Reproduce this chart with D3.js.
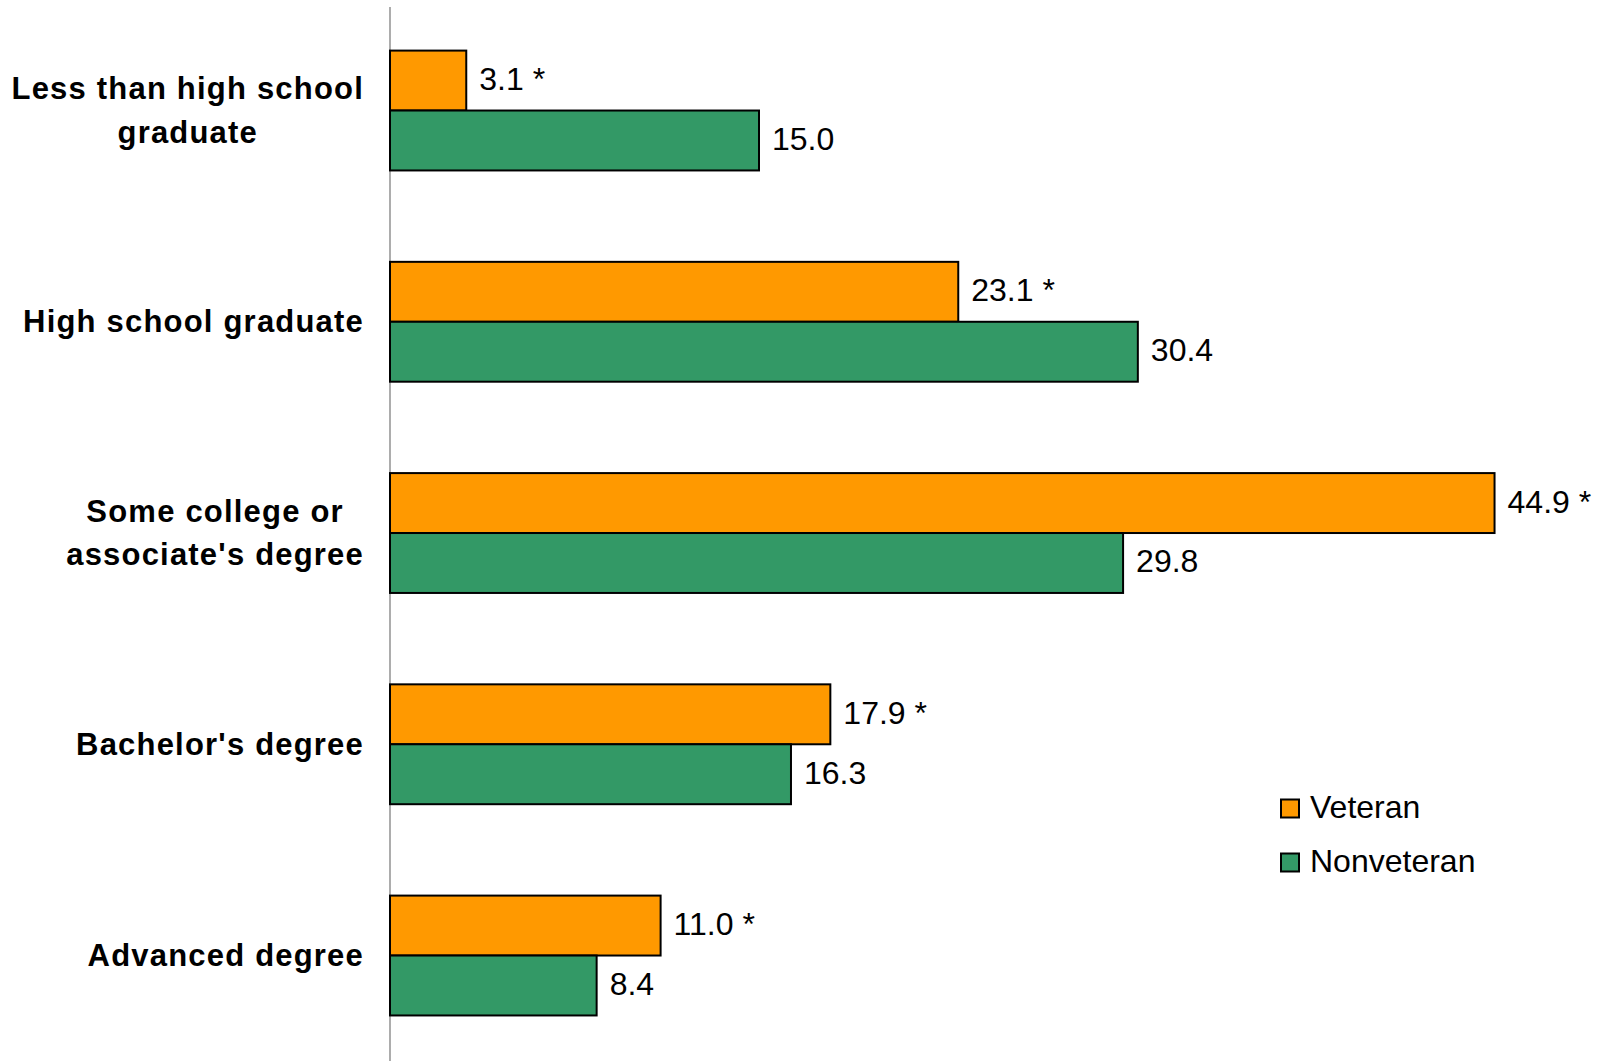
<!DOCTYPE html>
<html>
<head>
<meta charset="utf-8">
<script src="https://cdn.jsdelivr.net/npm/d3@7"></script>
<style>
  html, body { margin: 0; padding: 0; background: #ffffff; }
  svg { display: block; }
</style>
</head>
<body>
<script>
// ---- Data ----
const categories = [
  ["Less than high school", "graduate"],
  ["High school graduate"],
  ["Some college or", "associate's degree"],
  ["Bachelor's degree"],
  ["Advanced degree"]
];
const seriesNames = ["Veteran", "Nonveteran"];
const veteranValues = [3.1, 23.1, 44.9, 17.9, 11.0];
const nonveteranValues = [15.0, 30.4, 29.8, 16.3, 8.4];
const veteranSignificant = [true, true, true, true, true];
const seriesColors = ["#FF9900", "#339966"];

// ---- Layout ----
const W = 1604, H = 1061;
const svg = d3.select("body").append("svg").attr("width", W).attr("height", H);

const catKeys = categories.map(c => c.join(" "));
const x = d3.scaleLinear().domain([0, 50]).range([390, 390 + 50 * 24.6]);
const y = d3.scaleBand().domain(catKeys).range([4.9, 1061.15])
  .paddingInner(0.4326).paddingOuter(0.2163);
const ySub = d3.scaleBand().domain(seriesNames).range([0, y.bandwidth()]);

const rows = catKeys.map((k, i) => ({
  key: k, lines: categories[i],
  vals: [
    { s: "Veteran", v: veteranValues[i], star: veteranSignificant[i] },
    { s: "Nonveteran", v: nonveteranValues[i], star: false }
  ]
}));

// axis line
svg.append("line")
  .attr("x1", x(0)).attr("x2", x(0))
  .attr("y1", 7).attr("y2", H)
  .attr("stroke", "#808080").attr("stroke-width", 1.3);

const groups = svg.selectAll("g.grp").data(rows).join("g")
  .attr("class", "grp")
  .attr("transform", d => `translate(0,${y(d.key)})`);

groups.selectAll("rect").data(d => d.vals).join("rect")
  .attr("x", x(0))
  .attr("y", d => ySub(d.s))
  .attr("width", d => x(d.v) - x(0))
  .attr("height", ySub.bandwidth())
  .attr("fill", (d, i) => seriesColors[i])
  .attr("stroke", "#000").attr("stroke-width", 2);

groups.selectAll("text.val").data(d => d.vals).join("text")
  .attr("class", "val")
  .attr("x", d => x(d.v) + 13)
  .attr("y", d => ySub(d.s) + ySub.bandwidth() / 2 + 9.5)
  .attr("font-family", "Liberation Sans, Arial, sans-serif")
  .attr("font-size", 32)
  .attr("fill", "#000")
  .text(d => d.v.toFixed(1) + (d.star ? " *" : ""));

// category labels
const labelRight = 364;
const lineGap = 43.4;
rows.forEach(r => {
  const cy = y(r.key) + y.bandwidth() / 2;
  const g = svg.append("g");
  const n = r.lines.length;
  const texts = r.lines.map((ln, j) => g.append("text")
    .attr("y", cy + 10.5 + (j - (n - 1) / 2) * lineGap)
    .attr("font-family", "Liberation Sans, Arial, sans-serif")
    .attr("font-weight", "bold")
    .attr("font-size", 31)
    .attr("letter-spacing", "1.2px")
    .attr("fill", "#000")
    .text(ln));
  const widths = texts.map(t => t.node().getComputedTextLength());
  const maxW = d3.max(widths);
  const center = labelRight - maxW / 2;
  texts.forEach(t => t.attr("x", center).attr("text-anchor", "middle"));
});

// legend
const legend = svg.append("g");
seriesNames.forEach((s, i) => {
  const ly = 808.5 + i * 54;
  legend.append("rect")
    .attr("x", 1281).attr("y", ly - 9)
    .attr("width", 18).attr("height", 18)
    .attr("fill", seriesColors[i]).attr("stroke", "#000").attr("stroke-width", 2);
  legend.append("text")
    .attr("x", 1310).attr("y", ly + 9.5)
    .attr("font-family", "Liberation Sans, Arial, sans-serif")
    .attr("font-size", 32)
    .attr("fill", "#000")
    .text(s);
});
</script>
</body>
</html>
